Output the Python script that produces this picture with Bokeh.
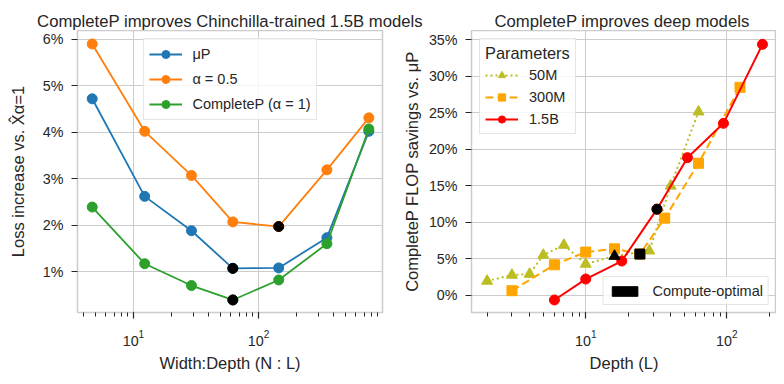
from bokeh.plotting import figure
from bokeh.layouts import row, column
from bokeh.models import (Range1d, FixedTicker, PrintfTickFormatter, Legend, LegendItem)
from bokeh.core.properties import value
from bokeh.embed import file_html
from bokeh.resources import INLINE

# ---------------- Left panel data ----------------
wd_ratio = [4.68, 12.3, 29.1, 62.3, 145, 352, 762]
loss_mup = [4.72, 2.62, 1.88, 1.07, 1.08, 1.73, 4.02]
loss_a05 = [5.90, 4.02, 3.07, 2.07, 1.97, 3.19, 4.31]
loss_cp = [2.39, 1.17, 0.70, 0.39, 0.82, 1.60, 4.07]
opt_mup, opt_a05, opt_cp = 3, 4, 3
left_yticks = [1, 2, 3, 4, 5, 6]

# ---------------- Right panel data ----------------
depth_50m = [2, 3, 4, 5, 7, 10, 16, 28.2, 40, 63]
save_50m = [1.92, 2.74, 2.87, 5.48, 6.85, 4.25, 5.34, 6.07, 14.97, 25.15]
depth_300m = [3, 6, 10, 16, 24.2, 36.3, 63, 124]
save_300m = [0.59, 4.15, 5.89, 6.34, 5.62, 10.55, 18.08, 28.5]
depth_1_5b = [6, 10, 18, 32, 52.6, 94.7, 179]
save_1_5b = [-0.68, 2.19, 4.66, 11.78, 18.85, 23.56, 34.4]
opt_50m, opt_300m, opt_1_5b = 6, 4, 3
right_yticks = [0, 5, 10, 15, 20, 25, 30, 35]

titles = ["CompleteP improves Chinchilla-trained 1.5B models", "CompleteP improves deep models"]

FONT = "Liberation Sans"
TXT = "#262626"
GRID = "#cccccc"
TICK_FS = "14.3px"
LAB_FS = "16.5px"
TITLE_FS = "16.7px"
LEG_FS = "14.5px"

# layout sizes
FW, FH = 305, 282
L_LEFT, L_RIGHT = 77, 17
R_LEFT, R_RIGHT = 70, 0
HEAD_H, TOP, BOTTOM = 30, 0, 64
LW = L_LEFT + FW + L_RIGHT
RW = R_LEFT + FW + R_RIGHT


def style(p):
    p.outline_line_color = GRID
    p.outline_line_width = 1.5
    for ax in (p.xaxis[0], p.yaxis[0]):
        ax.axis_line_color = None
        ax.major_tick_line_color = TXT
        ax.minor_tick_line_color = TXT
        ax.major_tick_line_width = 1.2
        ax.minor_tick_line_width = 1
        ax.major_tick_in = 0
        ax.major_tick_out = 6
        ax.minor_tick_in = 0
        ax.minor_tick_out = 4
        ax.major_label_text_font = FONT
        ax.major_label_text_font_size = TICK_FS
        ax.major_label_text_color = TXT
        ax.axis_label_text_font = FONT
        ax.axis_label_text_font_size = LAB_FS
        ax.axis_label_text_font_style = "normal"
        ax.axis_label_text_color = TXT
    p.xaxis.major_label_standoff = 11
    p.xaxis.axis_label_standoff = 5
    p.yaxis.major_label_standoff = 8
    p.xgrid.grid_line_color = GRID
    p.ygrid.grid_line_color = GRID
    p.xgrid.grid_line_width = 1
    p.ygrid.grid_line_width = 1
    p.yaxis.minor_tick_line_color = None


def style_legend(lg):
    lg.label_text_font = FONT
    lg.label_text_font_size = LEG_FS
    lg.label_text_color = TXT
    lg.border_line_color = GRID
    lg.border_line_width = 1
    lg.background_fill_alpha = 0.8
    lg.glyph_width = 33
    lg.padding = 5
    lg.spacing = 5
    lg.label_standoff = 11


# ---------------- Header with titles ----------------
head = figure(width=LW + RW, height=HEAD_H, x_range=Range1d(0, LW + RW),
              y_range=Range1d(0, HEAD_H), min_border=0,
              output_backend="svg", toolbar_location=None)
head.axis.visible = False
head.grid.visible = False
head.outline_line_color = None
head.text(x=[L_LEFT + FW / 2, LW + R_LEFT + FW / 2], y=[HEAD_H - 21, HEAD_H - 21], text=titles,
          text_align="center", text_baseline="alphabetic", text_font=value(FONT),
          text_font_size=TITLE_FS, text_color=TXT)

# ---------------- Left figure ----------------
pl = figure(x_axis_type="log", frame_width=FW, frame_height=FH,
            min_border_left=L_LEFT, min_border_right=L_RIGHT, min_border_top=TOP,
            min_border_bottom=BOTTOM,
            x_range=Range1d(3.57, 980), y_range=Range1d(0.12, 6.19),
            output_backend="svg", toolbar_location=None)
style(pl)
pl.yaxis.axis_label_standoff = 13
pl.yaxis.ticker = FixedTicker(ticks=left_yticks)
pl.yaxis.formatter = PrintfTickFormatter(format="%d%%")
pl.xaxis.axis_label = "Width:Depth (N : L)"
pl.yaxis.axis_label = "Loss increase vs. X̂α=1"

items = []
for ys, col, lab in [(loss_mup, "#1f77b4", "μP"), (loss_a05, "#ff7f0e", "α = 0.5"),
                     (loss_cp, "#2ca02c", "CompleteP (α = 1)")]:
    l = pl.line(wd_ratio, ys, line_color=col, line_width=1.8)
    s = pl.scatter(wd_ratio, ys, size=10, fill_color=col, line_color=col)
    items.append(LegendItem(label=lab, renderers=[l, s]))
for ys, i in [(loss_mup, opt_mup), (loss_a05, opt_a05), (loss_cp, opt_cp)]:
    pl.scatter([wd_ratio[i]], [ys[i]], size=10, fill_color="black", line_color="black")

lgl = Legend(items=items, location="top_center", margin=8)
style_legend(lgl)
lgl.glyph_height = 20
lgl.label_height = 20
pl.add_layout(lgl)

# ---------------- Right figure ----------------
pr = figure(x_axis_type="log", frame_width=FW, frame_height=FH,
            min_border_left=R_LEFT, min_border_right=R_RIGHT, min_border_top=TOP,
            min_border_bottom=BOTTOM,
            x_range=Range1d(1.55, 225), y_range=Range1d(-2.4, 36.3),
            output_backend="svg", toolbar_location=None)
style(pr)
pr.yaxis.axis_label_standoff = 5
pr.yaxis.ticker = FixedTicker(ticks=right_yticks)
pr.yaxis.formatter = PrintfTickFormatter(format="%d%%")
pr.xaxis.axis_label = "Depth (L)"
pr.yaxis.axis_label = "CompleteP FLOP savings vs. μP"

ritems = []
series = [(depth_50m, save_50m, "#bcbd22", "2 3", "triangle", "50M", opt_50m),
          (depth_300m, save_300m, "#ffa500", "8 4", "square", "300M", opt_300m),
          (depth_1_5b, save_1_5b, "#ff0000", "solid", "circle", "1.5B", opt_1_5b)]
for xs, ys, col, dash, mk, lab, oi in series:
    l = pr.line(xs, ys, line_color=col, line_width=2, line_dash=dash)
    s = pr.scatter(xs, ys, marker=mk, size=10 if mk != "triangle" else 11,
                   fill_color=col, line_color=col)
    ritems.append(LegendItem(label=lab, renderers=[l, s]))
for xs, ys, col, dash, mk, lab, oi in series:
    pr.scatter([xs[oi]], [ys[oi]], marker=mk, size=10 if mk != "triangle" else 11,
               fill_color="black", line_color="black")

lgr = Legend(items=ritems, location="top_left", margin=8, title="Parameters")
style_legend(lgr)
lgr.glyph_height = 18
lgr.label_height = 18
lgr.spacing = 4
lgr.title_text_font = FONT
lgr.title_text_font_size = "16.4px"
lgr.title_text_font_style = "normal"
lgr.title_text_color = TXT
lgr.title_standoff = 3
pr.add_layout(lgr)

nan = float("nan")
q = pr.quad(left=[nan], right=[nan], top=[nan], bottom=[nan],
            fill_color="black", line_color="black")
lgc = Legend(items=[LegendItem(label="Compute-optimal", renderers=[q])],
             location="bottom_right", margin=7)
style_legend(lgc)
lgc.glyph_width = 32
lgc.glyph_height = 12
lgc.label_height = 17
lgc.label_standoff = 12
lgc.padding = 5
pr.add_layout(lgc)

layout = column(head, row(pl, pr))
open("out.html", "w").write(file_html(layout, INLINE))
